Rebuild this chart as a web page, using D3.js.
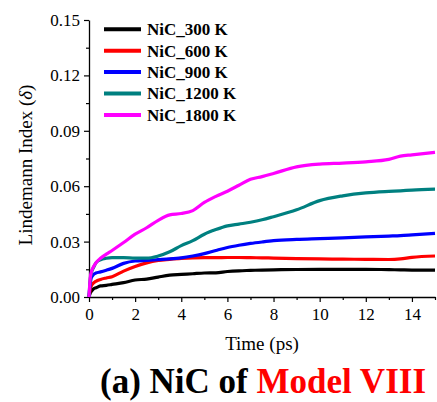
<!DOCTYPE html>
<html>
<head>
<meta charset="utf-8">
<script src="https://cdn.jsdelivr.net/npm/d3@7"></script>
<style>
  body { margin: 0; background: #fff; }
  svg { display: block; font-family: "Liberation Serif", "Times New Roman", serif; }
</style>
</head>
<body>
<svg width="437" height="402"></svg>
<script>
// time axis (ps)
const time = [0, 0.05, 0.1, 0.2, 0.3, 0.5, 0.75, 1, 1.5, 2, 2.5, 3, 3.5, 4, 4.5, 5, 5.5, 6, 6.5, 7, 7.5, 8, 9, 10, 11, 12, 13, 13.5, 14, 15];

// Lindemann index per temperature
const nic300 = [0, 0.002, 0.003, 0.0045, 0.005, 0.006, 0.0063, 0.0068, 0.0078, 0.0092, 0.0097, 0.0108, 0.0118, 0.0122, 0.0126, 0.013, 0.0131, 0.0138, 0.0142, 0.0144, 0.0146, 0.0147, 0.0149, 0.015, 0.015, 0.015, 0.0148, 0.0147, 0.0146, 0.0146];
const nic600 = [0, 0.004, 0.006, 0.0076, 0.0085, 0.0095, 0.0103, 0.011, 0.014, 0.0165, 0.0185, 0.0198, 0.0204, 0.0209, 0.0212, 0.0213, 0.0213, 0.0214, 0.0214, 0.0213, 0.0212, 0.0211, 0.0208, 0.0206, 0.0205, 0.0204, 0.0203, 0.0206, 0.0215, 0.0222];
const nic900 = [0, 0.007, 0.0105, 0.0122, 0.013, 0.0136, 0.0145, 0.0155, 0.0182, 0.0195, 0.0198, 0.0202, 0.0206, 0.0212, 0.0222, 0.0235, 0.0252, 0.0268, 0.028, 0.029, 0.0298, 0.0305, 0.0312, 0.0316, 0.032, 0.0326, 0.033, 0.0332, 0.0336, 0.0345];
const nic1200 = [0, 0.009, 0.013, 0.016, 0.0185, 0.0202, 0.021, 0.0213, 0.0213, 0.021, 0.021, 0.0222, 0.0245, 0.0278, 0.0305, 0.034, 0.0365, 0.0385, 0.0395, 0.0405, 0.0418, 0.0435, 0.0472, 0.0522, 0.0548, 0.0564, 0.0572, 0.0575, 0.0579, 0.0584];
const nic1800 = [0, 0.01, 0.0135, 0.0165, 0.0185, 0.021, 0.0232, 0.0252, 0.0295, 0.034, 0.0375, 0.0415, 0.0445, 0.0452, 0.0468, 0.0512, 0.0545, 0.0573, 0.0605, 0.0637, 0.0652, 0.0669, 0.0705, 0.072, 0.0725, 0.0732, 0.0745, 0.0763, 0.077, 0.0783];

const seriesNames = ["NiC_300 K", "NiC_600 K", "NiC_900 K", "NiC_1200 K", "NiC_1800 K"];
const seriesValues = [nic300, nic600, nic900, nic1200, nic1800];
const seriesColors = ["#000000", "#ff0000", "#0000ff", "#008080", "#ff00ff"];

const xTicks = [0, 2, 4, 6, 8, 10, 12, 14];
const xMinor = [1, 3, 5, 7, 9, 11, 13, 15];
const yTicks = [0, 0.03, 0.06, 0.09, 0.12, 0.15];
const yMinor = [0.015, 0.045, 0.075, 0.105, 0.135];

const svg = d3.select("svg");
const plotLeft = 89, plotRight = 435, plotTop = 20, plotBottom = 297;

const x = d3.scaleLinear().domain([0, 15]).range([plotLeft, plotRight]);
const y = d3.scaleLinear().domain([0, 0.15]).range([plotBottom, plotTop]);

// minor ticks first
svg.append("g")
  .attr("transform", `translate(0,${plotBottom})`)
  .call(d3.axisBottom(x).tickValues(xMinor).tickSize(3).tickFormat(""))
  .call(g => g.select(".domain").remove());
svg.append("g")
  .attr("transform", `translate(${plotLeft},0)`)
  .call(d3.axisLeft(y).tickValues(yMinor).tickSize(3).tickFormat(""))
  .call(g => g.select(".domain").remove());

const xAxis = svg.append("g")
  .attr("transform", `translate(0,${plotBottom})`)
  .call(d3.axisBottom(x).tickValues(xTicks).tickSize(5).tickPadding(6).tickSizeOuter(0).tickFormat(d3.format("d")));
const yAxis = svg.append("g")
  .attr("transform", `translate(${plotLeft},0)`)
  .call(d3.axisLeft(y).tickValues(yTicks).tickSize(5).tickPadding(4).tickSizeOuter(0).tickFormat(d3.format(".2f")));

svg.selectAll(".tick line").attr("stroke-width", 1.2);
[xAxis, yAxis].forEach(a => {
  a.select(".domain").attr("stroke-width", 1.3);
  a.selectAll("text").attr("font-size", 17).attr("font-family", "Liberation Serif").attr("fill", "#000");
});

// curves
const line = d3.line()
  .x((d, i) => x(time[i]))
  .y(d => y(d))
  .curve(d3.curveMonotoneX);

svg.append("g")
  .selectAll("path")
  .data(seriesValues)
  .join("path")
  .attr("d", d => line(d))
  .attr("fill", "none")
  .attr("stroke", (d, i) => seriesColors[i])
  .attr("stroke-width", 3.2)
  .attr("stroke-linejoin", "round");

// legend
const legend = svg.append("g")
  .selectAll("g")
  .data(seriesNames)
  .join("g")
  .attr("transform", (d, i) => `translate(104,${29.3 + i * 21.4})`);
legend.append("line")
  .attr("x1", 0).attr("x2", 37)
  .attr("stroke", (d, i) => seriesColors[i])
  .attr("stroke-width", 4);
legend.append("text")
  .attr("x", 43)
  .attr("dy", "0.35em")
  .attr("font-size", 17)
  .attr("font-weight", "bold")
  .text(d => d);

// axis titles
svg.append("text")
  .attr("x", (plotLeft + plotRight) / 2)
  .attr("y", 350)
  .attr("text-anchor", "middle")
  .attr("font-size", 19)
  .text("Time (ps)");

const yl = svg.append("text")
  .attr("transform", `translate(32,165) rotate(-90)`)
  .attr("text-anchor", "middle")
  .attr("font-size", 19);
yl.append("tspan").text("Lindemann Index (");
yl.append("tspan").attr("font-style", "italic").text("δ");
yl.append("tspan").text(")");

// caption
const cap = svg.append("text")
  .attr("x", 263)
  .attr("y", 393)
  .attr("text-anchor", "middle")
  .attr("font-size", 35)
  .attr("font-weight", "bold");
cap.append("tspan").text("(a) NiC of ");
cap.append("tspan").attr("fill", "#ff0000").text("Model VIII");
</script>
</body>
</html>
